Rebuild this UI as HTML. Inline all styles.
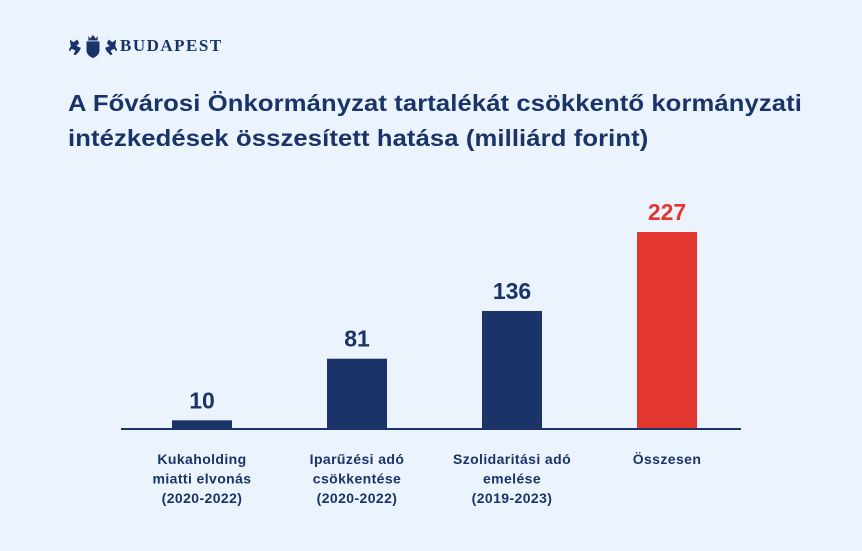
<!DOCTYPE html>
<html><head><meta charset="utf-8"><style>
body{margin:0;width:862px;height:551px;background:#ebf3fc;font-family:"Liberation Sans",sans-serif;overflow:hidden;position:relative}
.title{position:absolute;left:68px;top:86px;font-size:23.5px;font-weight:bold;color:#1a3368;line-height:35px;letter-spacing:0.1px;transform:scaleX(1.09);transform-origin:left top;white-space:nowrap}
.logo{position:absolute;left:68px;top:33px;display:flex;align-items:center}
.logo span{font-family:"Liberation Serif",serif;font-weight:bold;color:#1a3368;font-size:17px;letter-spacing:1.5px;margin-left:2px}
</style></head><body>
<div class="logo">
<svg width="50" height="26" viewBox="0 0 54 26"><g fill="#1a3368">
<path d="M20 8h14v10c0 4-4 7-7 8-3-1-7-4-7-8z"/><path d="M22 2l2 3 3-4 3 4 2-3v5H22z"/>
<path d="M2 6l4 3 4-3 2 4-3 3 5 2-2 4-4 4-2-1 2-4-4-2-2 3-1-2 2-4z"/>
<path d="M52 6l-4 3-4-3-2 4 3 3-5 2 2 4 4 4 2-1-2-4 4-2 2 3 1-2-2-4z"/></g></svg>
<span>BUDAPEST</span></div>
<div class="title">A Fővárosi Önkormányzat tartalékát csökkentő kormányzati<br>intézkedések összesített hatása (milliárd forint)</div>
<svg id="chart" width="862" height="551" style="position:absolute;left:0;top:0"></svg>
<script>
const categories=[["Kukaholding","miatti elvonás","(2020-2022)"],["Iparűzési adó","csökkentése","(2020-2022)"],["Szolidaritási adó","emelése","(2019-2023)"],["Összesen"]];
const values=[10,81,136,227];
const colors=["#1a3368","#1a3368","#1a3368","#e2362f"];
const svg=document.getElementById('chart');const NS="http://www.w3.org/2000/svg";
const base=429,scale=197/227,x0=202,step=155,bw=60;
const y=v=>base-v*scale;const xc=i=>x0+i*step;
function mk(t,a){const e=document.createElementNS(NS,t);for(const k in a)e.setAttribute(k,a[k]);svg.appendChild(e);return e;}
values.forEach((v,i)=>{
const r=mk('rect',{x:xc(i)-bw/2,y:y(v),width:bw,height:v*scale,fill:colors[i]});


const t=mk('text',{x:xc(i),y:y(v)-12,'text-anchor':'middle','font-size':'23','font-weight':'bold',fill:colors[i]});
t.textContent=v;


categories[i].forEach((s,j)=>{const l=mk('text',{x:xc(i),y:464+j*19.5,'text-anchor':'middle','font-size':'14','font-weight':'bold','letter-spacing':'0.4',fill:'#1a3368'});l.textContent=s;

});
});
const ax=mk('line',{x1:121,x2:741,y1:base,y2:base,stroke:'#1a3368','stroke-width':2});


</script>
</body></html>
